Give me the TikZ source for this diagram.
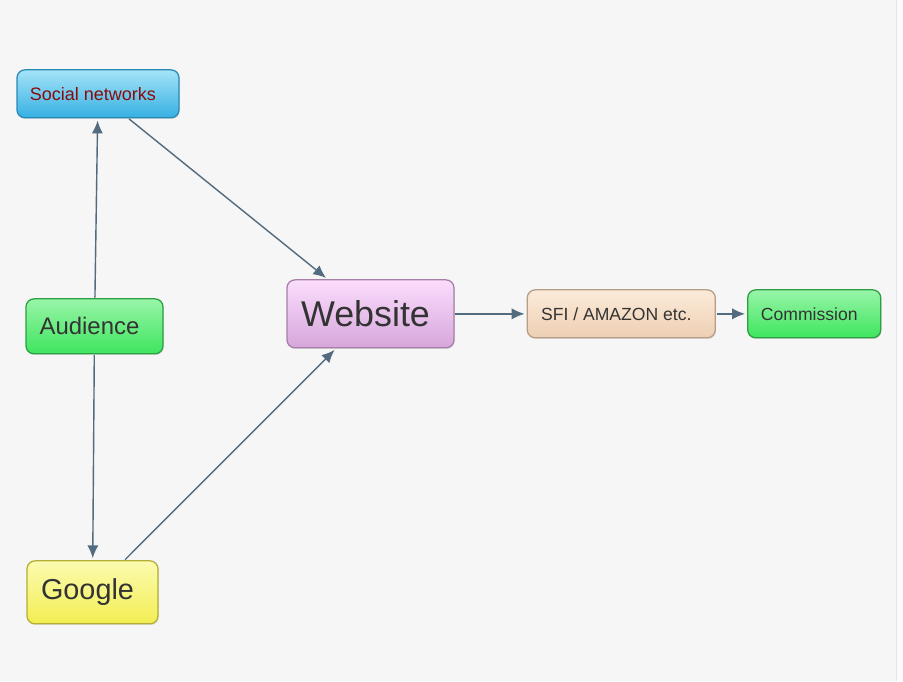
\documentclass[tikz,border=0pt]{standalone}
\usepackage{fontspec}
\setmainfont{Liberation Sans}
\usetikzlibrary{positioning,arrows.meta,shadows}
\usepackage{xcolor}

\definecolor{paper}{HTML}{F6F6F6}
\definecolor{linkcol}{HTML}{536B7E}
\definecolor{txtcol}{HTML}{333333}
\definecolor{darkred}{HTML}{8A0A0A}
\definecolor{blueline}{HTML}{2A88B5}
\definecolor{bluetop}{HTML}{A4E3F8}
\definecolor{bluebot}{HTML}{36B0E2}
\definecolor{greenline}{HTML}{2E9E42}
\definecolor{greentop}{HTML}{98F5A8}
\definecolor{greenbot}{HTML}{3EE55E}
\definecolor{yellowline}{HTML}{B3AE34}
\definecolor{yellowtop}{HTML}{FCFBB0}
\definecolor{yellowbot}{HTML}{F2EE52}
\definecolor{pinkline}{HTML}{A57FA8}
\definecolor{pinktop}{HTML}{FBDDFD}
\definecolor{pinkbot}{HTML}{D6A6DB}
\definecolor{peachline}{HTML}{B59D86}
\definecolor{peachtop}{HTML}{FCEBDA}
\definecolor{peachbot}{HTML}{EDCFB2}

\begin{document}
\begin{tikzpicture}[
    box/.style={draw, rectangle, rounded corners=0.2cm, line width=0.9pt, align=center, text=txtcol, inner sep=0pt,
      execute at end node=\kern0.25cm,
      drop shadow={opacity=0.18, shadow xshift=0.6pt, shadow yshift=-0.8pt}},
    bluebox/.style={box, draw=blueline, top color=bluetop, bottom color=bluebot},
    greenbox/.style={box, draw=greenline, top color=greentop, bottom color=greenbot},
    yellowbox/.style={box, draw=yellowline, top color=yellowtop, bottom color=yellowbot},
    pinkbox/.style={box, draw=pinkline, top color=pinktop, bottom color=pinkbot},
    peachbox/.style={box, draw=peachline, top color=peachtop, bottom color=peachbot},
    arrow/.style={line width=1pt, draw=linkcol, ->, >={Latex[length=3.2mm,width=2.8mm]}, shorten >=1.5pt, shorten <=0.5pt}
]
  % background
  \fill[paper] (0,0) rectangle (22.575,-17.025);
  \fill[white!60!paper] (22.4,0) rectangle (22.575,-17.025);
  \draw[black!10, line width=0.5pt] (22.4,0) -- (22.4,-17.025);
  \useasboundingbox (0,0) rectangle (22.575,-17.025);

  % Nodes left column
  \node (social) [bluebox, minimum width=4.05cm, minimum height=1.2cm, text=darkred, font=\fontsize{12.8}{14}\selectfont] at (2.45,-2.3375) {Social networks};
  \node (audience) [greenbox, minimum width=3.425cm, minimum height=1.375cm, font=\fontsize{17}{19}\selectfont] at (2.3625,-8.15) {Audience};
  \node (google) [yellowbox, minimum width=3.275cm, minimum height=1.575cm, font=\fontsize{20.5}{23}\selectfont] at (2.3125,-14.8) {Google};

  % Nodes row
  \node (web) [pinkbox, minimum width=4.175cm, minimum height=1.7cm, font=\fontsize{25.5}{28}\selectfont] at (9.2625,-7.8375) {Website};
  \node (sfi) [peachbox, right=1.8cm of web, minimum width=4.7cm, minimum height=1.2cm, font=\fontsize{12.5}{14}\selectfont] {SFI / AMAZON etc.};
  \node (comm) [greenbox, right=0.78cm of sfi, minimum width=3.325cm, minimum height=1.2cm, font=\fontsize{12.5}{14}\selectfont] {Commission};

  % Arrows
  \draw [arrow] (audience) -- (social);
  \draw [arrow] (social) -- (web);
  \draw [arrow] (audience) -- (google);
  \draw [arrow] (google) -- (web);
  \draw [arrow] (web) -- (sfi);
  \draw [arrow] (sfi) -- (comm);
\end{tikzpicture}
\end{document}
